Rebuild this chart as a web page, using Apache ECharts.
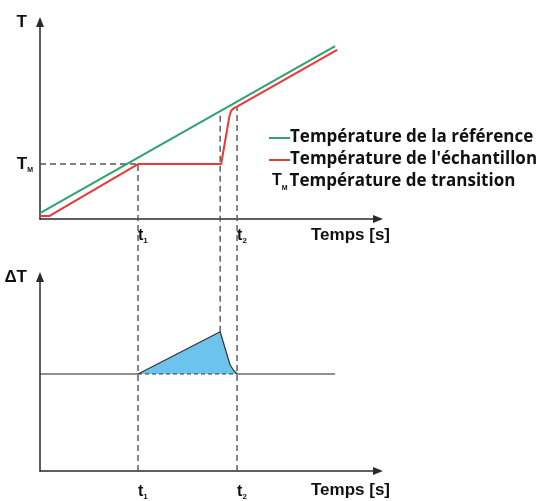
<!DOCTYPE html>
<html>
<head>
<meta charset="utf-8">
<script src="https://cdn.jsdelivr.net/npm/echarts@6/dist/echarts.min.js"></script>
<style>
html,body{margin:0;padding:0;background:#fff;}
#chart{width:537px;height:501px;}
</style>
</head>
<body>
<div id="chart"></div>
<script>
// ---------- data (abstract units, 0..100 on each axis) ----------
const refTime    = [0, 87.3];
const refTemp    = [3.0, 87.8];
const sampleTime = [0, 2.7, 29.0, 53.6, 56.0, 56.5, 57.4, 58.3, 87.9];
const sampleTemp = [1.5, 1.5, 27.9, 27.9, 51.8, 54.8, 56.3, 57.1, 85.8];
const TM = 27.9;
const t1 = 29.0, t2 = 58.3, tPeak = 53.3;
const peakGuideTop = 53.0;   // reference temp where the peak guide starts
const t2GuideTop = 57.1;     // sample temp where the t2 guide starts
const deltaTime = [29.0, 53.3, 56.2, 57.1, 58.3];
const deltaVal  = [50, 71.8, 54.9, 52.3, 50];
const baseline = 50, baselineEnd = 87.3;
const timeTickValues = [t1, t2];
const timeTickSubs = ['1', '2'];
const legendNames = ['Température de la référence', "Température de l'échantillon", 'Température de transition'];
const axisNames = { T: 'T', dT: 'ΔT', time: 'Temps [s]' };

// ---------- layout ----------
const TOP = { left: 40, top: 22, width: 338, height: 197 };
const BOT = { left: 40, top: 277, width: 338, height: 195 };
function topToBot(v) {
  const px = TOP.top + TOP.height * (1 - v / 100);
  return (BOT.top + BOT.height - px) / BOT.height * 100;
}

const GREEN = '#33a06f', RED = '#e8383a', AX = '#2a2a2a', DASH = '#555';
const FONT = 'Liberation Sans';
const LFONT = 'Open Sans';

function axisX(gi) {
  return {
    type: 'value', gridIndex: gi, min: 0, max: 100,
    splitLine: { show: false },
    axisTick: { show: false },
    axisLine: { show: true, symbol: ['none', 'triangle'], symbolSize: [8, 10],
      lineStyle: { color: AX, width: 1.5 } },
    axisLabel: {
      customValues: timeTickValues, margin: gi === 0 ? 8 : 12, align: 'left',
      formatter: v => '{t|t}{s|' + timeTickSubs[timeTickValues.indexOf(v)] + '}',
      rich: {
        t: { fontFamily: FONT, fontWeight: 'bold', fontSize: 16, color: '#111', lineHeight: 18 },
        s: { fontFamily: FONT, fontWeight: 'bold', fontSize: 8, color: '#111', verticalAlign: 'bottom', lineHeight: 18 }
      }
    },
    name: axisNames.time, nameLocation: 'end', nameGap: 12,
    nameTextStyle: { fontFamily: FONT, fontWeight: 'bold', fontSize: 17, color: '#111',
      align: 'right', verticalAlign: 'top', padding: [gi === 0 ? 8 : 11, 0, 0, 0] }
  };
}
function axisY(gi, name, labels) {
  return {
    type: 'value', gridIndex: gi, min: 0, max: 100,
    splitLine: { show: false },
    axisTick: { show: false },
    axisLine: { show: true, symbol: ['none', 'triangle'], symbolSize: [8, 10],
      lineStyle: { color: AX, width: 1.5 } },
    axisLabel: labels ? {
      customValues: [TM], margin: 7,
      formatter: () => '{t|T}{s|M}',
      rich: {
        t: { fontFamily: FONT, fontWeight: 'bold', fontSize: 17, color: '#111', lineHeight: 20 },
        s: { fontFamily: FONT, fontWeight: 'bold', fontSize: 7, color: '#111', verticalAlign: 'bottom', lineHeight: 20 }
      }
    } : { show: false },
    name: name, nameLocation: 'end', nameGap: 0,
    nameTextStyle: { fontFamily: FONT, fontWeight: 'bold', fontSize: 17, color: '#111',
      align: 'right', verticalAlign: 'middle', padding: [0, 13, 0, 0] }
  };
}
function seg(pts, gi, style, z, clip) {
  return { type: 'line', xAxisIndex: gi, yAxisIndex: gi, data: pts, symbol: 'none',
    silent: true, clip: clip !== false, z: z, lineStyle: style };
}
const dashed = { color: DASH, width: 1.4, type: [6, 4] };

const series = [
  // guides
  seg([[0, TM], [t1, TM]], 0, dashed, 1),
  seg([[t1, 0], [t1, topToBot(TM)]], 1, dashed, 1, false),
  seg([[tPeak, deltaVal[1]], [tPeak, topToBot(peakGuideTop)]], 1, dashed, 1, false),
  seg([[t2, 0], [t2, topToBot(t2GuideTop)]], 1, dashed, 1, false),
  // temperatures
  seg(refTime.map((t, i) => [t, refTemp[i]]), 0, { color: GREEN, width: 2 }, 3),
  seg(sampleTime.map((t, i) => [t, sampleTemp[i]]), 0, { color: RED, width: 2 }, 3),
  // delta T
  {
    type: 'line', xAxisIndex: 1, yAxisIndex: 1, symbol: 'none', silent: true, z: 2,
    data: deltaTime.map((t, i) => [t, deltaVal[i]]),
    lineStyle: { color: '#333', width: 1.2 },
    areaStyle: { color: '#6cc4ee', opacity: 1, origin: baseline }
  },
  seg([[0, baseline], [t1, baseline]], 1, { color: '#222', width: 1.2 }, 3),
  seg([[t1, baseline], [t2, baseline]], 1, { color: '#333', width: 1.2, type: [4, 3] }, 3),
  seg([[t2, baseline], [baselineEnd, baseline]], 1, { color: '#222', width: 1.2 }, 3)
];

const chart = echarts.init(document.getElementById('chart'), null, { renderer: 'canvas' });
chart.setOption({
  animation: false,
  backgroundColor: '#fff',
  grid: [
    { left: TOP.left, top: TOP.top, width: TOP.width, height: TOP.height },
    { left: BOT.left, top: BOT.top, width: BOT.width, height: BOT.height }
  ],
  xAxis: [axisX(0), axisX(1)],
  yAxis: [axisY(0, axisNames.T, true), axisY(1, axisNames.dT, false)],
  title: {
    left: 269, top: 126, padding: 0,
    text: '{g|—}{b|' + legendNames[0] + '}\n{r|—}{b|' + legendNames[1] + '}\n{tm|T}{m|M}{b|' + legendNames[2] + '}',
    textStyle: {
      fontFamily: LFONT, fontSize: 17, fontWeight: 'bold', color: '#111', lineHeight: 22,
      rich: {
        g: { fontFamily: FONT, fontSize: 21, color: GREEN, lineHeight: 22 },
        r: { fontFamily: FONT, fontSize: 21, color: RED, lineHeight: 22 },
        b: { fontFamily: LFONT, fontSize: 17, fontWeight: 'bold', color: '#111', lineHeight: 22 },
        tm: { fontFamily: FONT, fontSize: 16, fontWeight: 'bold', color: '#111', lineHeight: 22, padding: [0, 0, 0, 3] },
        m: { fontFamily: FONT, fontSize: 7, fontWeight: 'bold', color: '#111', verticalAlign: 'bottom', lineHeight: 22, padding: [0, 2, 0, 0] }
      }
    }
  },
  series: series
});
</script>
</body>
</html>
